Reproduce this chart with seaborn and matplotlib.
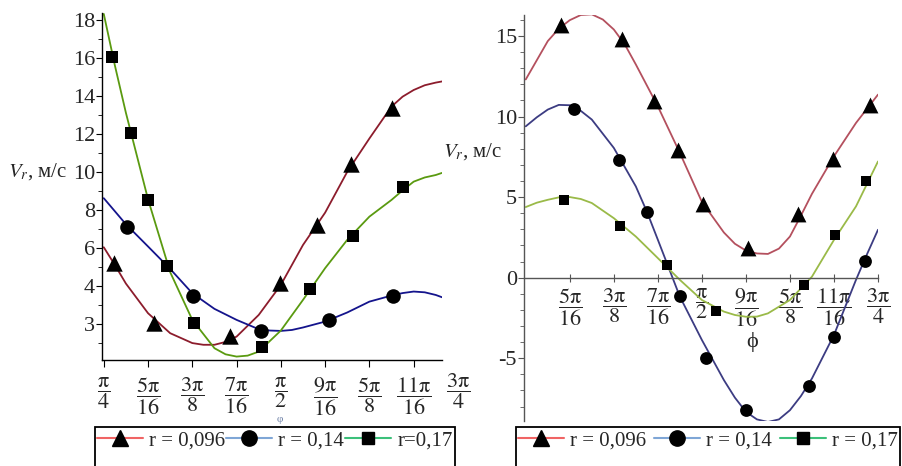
import numpy as np
import pandas as pd
import matplotlib
matplotlib.use('Agg')
import matplotlib.pyplot as plt
import seaborn as sns
from matplotlib.lines import Line2D
from matplotlib.patches import Rectangle
from matplotlib.ticker import FixedLocator

# phi values are in units of pi/16

# left panel curves
red_left_phi = [4.0, 4.25, 4.5, 5.0, 5.5, 6.0, 6.25, 6.5, 6.75, 7.0, 7.5, 8.0, 8.5, 9.0, 9.5, 10.0,
                10.5, 10.75, 11.0, 11.25, 11.5, 11.64]
red_left = [6.03, 5.1, 4.12, 2.56, 1.51, 0.99, 0.9, 0.9, 1.05, 1.33, 2.47, 4.05, 6.15, 7.85, 10.0, 11.75,
            13.43, 13.95, 14.3, 14.55, 14.69, 14.75]
blue_left_phi = [4.0, 4.5, 5.0, 5.5, 6.0, 6.5, 7.0, 7.5, 7.75, 8.0, 8.25, 8.5, 9.0, 9.5, 10.0, 10.5,
                 10.75, 11.0, 11.25, 11.5, 11.64]
blue_left = [8.61, 7.24, 6.07, 4.89, 3.61, 2.79, 2.21, 1.72, 1.65, 1.63, 1.68, 1.81, 2.12, 2.6, 3.17, 3.49,
             3.62, 3.7, 3.66, 3.52, 3.4]
green_left_phi = [4.0, 4.25, 4.5, 5.0, 5.5, 6.0, 6.5, 6.75, 7.0, 7.25, 7.5, 8.0, 8.5, 9.0, 9.5, 10.0,
                  10.5, 10.75, 11.0, 11.25, 11.5, 11.64]
green_left = [18.3, 15.6, 13.1, 8.55, 4.72, 2.21, 0.72, 0.4, 0.28, 0.33, 0.54, 1.65, 3.26, 4.93, 6.42, 7.64,
              8.52, 9.02, 9.48, 9.7, 9.83, 9.94]

# left panel markers
tri_left_phi = [4.23, 5.13, 6.85, 7.98, 8.82, 9.59, 10.51]
tri_left_v = [5.2, 2.05, 1.37, 4.16, 7.2, 10.41, 13.36]
circ_left_phi = [4.52, 6.01, 7.55, 9.09, 10.54]
circ_left_v = [7.12, 3.49, 1.65, 2.21, 3.49]
sq_left_phi = [4.18, 4.61, 5.0, 5.42, 6.04, 7.57, 8.66, 9.63, 10.76]
sq_left_v = [16.04, 12.06, 8.52, 5.07, 2.07, 0.77, 3.82, 6.64, 9.2]

# right panel curves
red_right_phi = [4.0, 4.5, 4.75, 5.0, 5.25, 5.5, 5.75, 6.0, 6.25, 6.5, 7.0, 7.5, 8.0, 8.5, 8.75, 9.0,
                 9.25, 9.5, 9.75, 10.0, 10.25, 10.5, 11.0, 11.5, 12.0]
red_right = [12.3, 14.68, 15.45, 15.98, 16.3, 16.34, 16.02, 15.4, 14.47, 13.23, 10.63, 7.74, 4.7, 2.8, 2.1, 1.68,
             1.5, 1.47, 1.8, 2.55, 3.85, 5.2, 7.53, 9.6, 11.36]
blue_right_phi = [4.0, 4.25, 4.5, 4.75, 5.0, 5.25, 5.5, 6.0, 6.5, 6.75, 7.0, 7.5, 8.0, 8.5, 8.75, 9.0,
                  9.25, 9.5, 9.75, 10.0, 10.25, 10.5, 11.0, 11.5, 11.75, 12.0]
blue_right = [9.39, 9.95, 10.43, 10.72, 10.7, 10.35, 9.81, 8.05, 5.66, 4.1, 2.35, -1.18, -3.87, -6.36, -7.45, -8.33,
              -8.8, -8.96, -8.8, -8.23, -7.35, -6.26, -3.56, -0.14, 1.45, 2.97]
green_right_phi = [4.0, 4.25, 4.5, 4.75, 5.0, 5.25, 5.5, 6.0, 6.5, 7.0, 7.5, 8.0, 8.5, 8.75, 9.0, 9.25,
                   9.5, 10.0, 10.5, 11.0, 11.5, 12.0]
green_right = [4.38, 4.65, 4.83, 4.98, 5.0, 4.88, 4.63, 3.69, 2.55, 1.21, -0.14, -1.39, -2.11, -2.32, -2.43, -2.42,
               -2.22, -1.39, 0.06, 2.34, 4.42, 7.21]

# right panel markers
tri_right_phi = [4.81, 6.18, 6.92, 7.46, 8.03, 9.04, 10.19, 10.98, 11.81]
tri_right_v = [15.65, 14.78, 10.99, 7.9, 4.58, 1.83, 3.94, 7.38, 10.74]
circ_right_phi = [5.10, 6.12, 6.75, 7.50, 8.09, 9.0, 10.44, 11.01, 11.71]
circ_right_v = [10.49, 7.32, 4.1, -1.12, -4.98, -8.23, -6.72, -3.67, 1.04]
sq_right_phi = [4.87, 6.14, 7.2, 8.32, 10.31, 11.03, 11.73]
sq_right_v = [4.83, 3.22, 0.79, -2.05, -0.45, 2.66, 5.97]

series = ['r = 0,096', 'r = 0,14', 'r=0,17']
legend_right = ['r = 0,096', 'r = 0,14', 'r = 0,17']
tick_left = [r'$\dfrac{\mathrm{\pi}}{4}$', r'$\dfrac{5\mathrm{\pi}}{16}$', r'$\dfrac{3\mathrm{\pi}}{8}$',
             r'$\dfrac{7\mathrm{\pi}}{16}$', r'$\dfrac{\mathrm{\pi}}{2}$', r'$\dfrac{9\mathrm{\pi}}{16}$',
             r'$\dfrac{5\mathrm{\pi}}{8}$', r'$\dfrac{11\mathrm{\pi}}{16}$']
tick_right = tick_left[1:] + [r'$\dfrac{3\mathrm{\pi}}{4}$']
ytick_left = ['3', '4', '6', '8', '10', '12', '14', '16', '18']

sns.set_style('white')
plt.rcParams['font.family'] = ['Liberation Serif', 'DejaVu Serif']
plt.rcParams['mathtext.fontset'] = 'stix'

u = np.pi / 16

def long_df(curves):
    frames = []
    for name, (grid, vals) in zip(series, curves):
        frames.append(pd.DataFrame({'phi': np.array(grid) * u, 'V': vals, 'r': name}))
    return pd.concat(frames, ignore_index=True)

fig = plt.figure(figsize=(9.03, 4.66), dpi=100)
axL = fig.add_axes([102 / 903, 1 - 360 / 466, 340 / 903, 347 / 466])
axR = fig.add_axes([524 / 903, 1 - 421 / 466, 354 / 903, 406 / 466])

# left panel
dfL = long_df([(red_left_phi, red_left), (blue_left_phi, blue_left), (green_left_phi, green_left)])
sns.lineplot(data=dfL, x='phi', y='V', hue='r', palette=['#8c1c2c', '#14148c', '#5a9a10'],
             ax=axL, legend=False, estimator=None, lw=1.3)
for px, pv, m, s in [(tri_left_phi, tri_left_v, '^', 140), (circ_left_phi, circ_left_v, 'o', 110),
                     (sq_left_phi, sq_left_v, 's', 75)]:
    sns.scatterplot(x=np.array(px) * u, y=pv, marker=m, s=s, color='black', linewidth=0, ax=axL, zorder=5)

axL.set_xlim(3.96 * u, 11.64 * u)
axL.set_ylim(0.1, 18.35)
axL.set_xticks(np.arange(4, 12) * u)
axL.set_xticklabels(tick_left, fontsize=16)
axL.set_yticks(np.arange(2, 19, 2))
axL.set_yticklabels(ytick_left, fontsize=16)
axL.yaxis.set_minor_locator(FixedLocator(np.arange(1, 19, 2)))
axL.tick_params(axis='both', which='both', direction='out', color='black', left=True, bottom=True)
axL.tick_params(axis='y', which='major', length=4, pad=1)
axL.tick_params(axis='y', which='minor', length=3)
axL.tick_params(axis='x', which='major', length=5, pad=6)
axL.text(12 * u, -0.088, tick_right[-1], transform=axL.get_xaxis_transform(), fontsize=16,
         ha='center', va='center', clip_on=False)
for sp in ['top', 'right']:
    axL.spines[sp].set_visible(False)
for sp in ['left', 'bottom']:
    axL.spines[sp].set_color('black')
    axL.spines[sp].set_linewidth(1.0)
axL.set_xlabel('')
axL.set_ylabel('')

# right panel
dfR = long_df([(red_right_phi, red_right), (blue_right_phi, blue_right), (green_right_phi, green_right)])
sns.lineplot(data=dfR, x='phi', y='V', hue='r', palette=['#b4505e', '#3c3c82', '#9aba48'],
             ax=axR, legend=False, estimator=None, lw=1.3)
for px, pv, m, s in [(tri_right_phi, tri_right_v, '^', 130), (circ_right_phi, circ_right_v, 'o', 85),
                     (sq_right_phi, sq_right_v, 's', 60)]:
    sns.scatterplot(x=np.array(px) * u, y=pv, marker=m, s=s, color='black', linewidth=0, ax=axR, zorder=5)

axR.spines['bottom'].set_position(('data', 0))
axR.set_xlim(3.96 * u, 12 * u)
axR.set_ylim(-8.9, 16.3)
axR.set_xticks(np.arange(5, 13) * u)
axR.set_xticklabels(tick_right, fontsize=16)
axR.set_yticks([-5, 0, 5, 10, 15])
axR.set_yticklabels(['-5', '0', '5', '10', '15'], fontsize=16)
axR.yaxis.set_minor_locator(FixedLocator(np.arange(-8, 17, 1)))
for sp in ['top', 'right']:
    axR.spines[sp].set_visible(False)
for sp in ['left', 'bottom']:
    axR.spines[sp].set_color('#555555')
    axR.spines[sp].set_linewidth(1.0)
axR.tick_params(axis='both', which='both', color='#555555', left=True, bottom=True)
axR.tick_params(axis='y', which='major', direction='out', length=4, pad=1)
axR.tick_params(axis='y', which='minor', direction='out', length=3)
axR.tick_params(axis='x', which='major', direction='inout', length=6, pad=3)
axR.set_xlabel('')
axR.set_ylabel('')

# axis titles
fig.text(8 / 903, 1 - 172 / 466, r'$V_r$, м/с', fontsize=15, ha='left', va='center')
fig.text(443 / 903, 1 - 152 / 466, r'$V_r$, м/с', fontsize=15, ha='left', va='center')
fig.text(280 / 903, 1 - 419 / 466, 'φ', fontsize=8, color='#6f82a8', ha='center', va='center')
fig.text(752 / 903, 1 - 342 / 466, 'ϕ', fontsize=16, ha='center', va='center')

# legends
def legend_box(x0, w, labels, colors):
    handles = [Line2D([0], [0], color=c, lw=1.5, marker=m, markersize=ms,
                      markerfacecolor='black', markeredgecolor='black')
               for c, m, ms in zip(colors, ['^', 'o', 's'], [12, 11, 9])]
    fig.legend(handles, labels, loc='upper left', ncol=3, mode='expand', frameon=False,
               bbox_to_anchor=(x0 / 903, 0, w / 903, 1 - 429 / 466), fontsize=15,
               handlelength=2.2, handletextpad=0.3, columnspacing=0.4, borderpad=0.1, borderaxespad=0)
    fig.add_artist(Rectangle((x0 / 903, -0.1), w / 903, 0.1 + 1 - 427 / 466, transform=fig.transFigure,
                             fill=False, edgecolor='black', lw=1.3))

legend_box(95, 360, series, ['#f06464', '#7fa6d6', '#3cc07a'])
legend_box(516, 384, legend_right, ['#f06464', '#7fa6d6', '#3cc07a'])

fig.savefig('out.png', dpi=100)
